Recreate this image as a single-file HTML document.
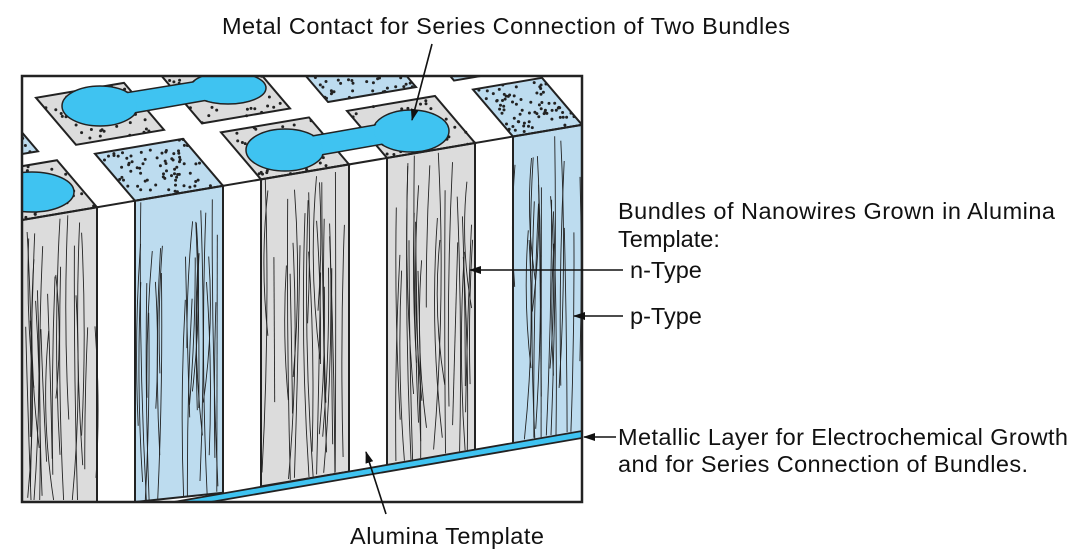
<!DOCTYPE html>
<html><head><meta charset="utf-8"><style>
html,body{margin:0;padding:0;background:#fff;width:1082px;height:560px;overflow:hidden}
svg{display:block}
text{font-family:"Liberation Sans",Arial,sans-serif;font-size:23.5px;fill:#111}
</style></head><body>
<svg id="s" width="1082" height="560" viewBox="0 0 1082 560" xmlns="http://www.w3.org/2000/svg">
<defs>
<clipPath id="frame"><rect x="22" y="76" width="560" height="426"/></clipPath>
<marker id="ah" markerWidth="12" markerHeight="8" refX="11" refY="4" orient="auto" markerUnits="userSpaceOnUse"><path d="M0,0 L12,4 L0,8 Z" fill="#111"/></marker>
</defs>
<rect x="22" y="76" width="560" height="426" fill="#fff"/>
<g id="art" clip-path="url(#frame)"></g>
<rect x="22" y="76" width="560" height="426" fill="none" stroke="#222" stroke-width="2.5"/>
<text x="222" y="34" textLength="568">Metal Contact for Series Connection of Two Bundles</text>
<line x1="432" y1="44" x2="412" y2="120" stroke="#111" stroke-width="1.6" marker-end="url(#ah)"/>
<text x="618" y="219" textLength="437">Bundles of Nanowires Grown in Alumina</text>
<text x="618" y="247">Template:</text>
<text x="630" y="278">n-Type</text>
<line x1="623" y1="270" x2="470" y2="270" stroke="#111" stroke-width="1.6" marker-end="url(#ah)"/>
<text x="630" y="324">p-Type</text>
<line x1="623" y1="316" x2="574" y2="316" stroke="#111" stroke-width="1.6" marker-end="url(#ah)"/>
<text x="618" y="445" textLength="450">Metallic Layer for Electrochemical Growth</text>
<text x="618" y="472" textLength="410">and for Series Connection of Bundles.</text>
<line x1="616" y1="437" x2="584" y2="437" stroke="#111" stroke-width="1.6" marker-end="url(#ah)"/>
<text x="350" y="544" textLength="194">Alumina Template</text>
<line x1="386" y1="514" x2="366" y2="452" stroke="#111" stroke-width="1.6" marker-end="url(#ah)"/>
</svg>
<script>
(function(){
var NS="http://www.w3.org/2000/svg",g=document.getElementById("art");
var seed=11;function r(){seed=(seed*16807)%2147483647;return (seed-1)/2147483646;}
function el(t,a){var e=document.createElementNS(NS,t);for(var k in a)e.setAttribute(k,a[k]);g.appendChild(e);return e;}
function fy(x){return 220-0.17*(x-22);}
function by(x){return 502-0.168*(x-168);}
var GRAY="#dcdcdc",LB="#bddcef",CB="#3fc3f1";
var D=[-40,-47];
function pad(x0,x1,dy,fill,dots){
  var p=[[x0,fy(x0)+dy],[x1,fy(x1)+dy],[x1+D[0],fy(x1)+dy+D[1]],[x0+D[0],fy(x0)+dy+D[1]]];
  el("polygon",{points:p.map(function(q){return q.join(",")}).join(" "),fill:fill,stroke:"#222","stroke-width":2});
  for(var i=0;i<dots;i++){var u=r(),v=r();
    var x=p[0][0]+(p[1][0]-p[0][0])*u+(p[3][0]-p[0][0])*v, y=p[0][1]+(p[1][1]-p[0][1])*u+(p[3][1]-p[0][1])*v;
    el("circle",{cx:x.toFixed(1),cy:y.toFixed(1),r:1.5,fill:"#222"});}
}
var cols=[[22,97,GRAY],[135,223,LB],[261,349,GRAY],[387,475,GRAY],[513,582,LB]];
var backFill=[LB,GRAY,GRAY,LB,LB];
for(var i=0;i<5;i++){var c=cols[i];pad(c[0]-59,c[1]-59,-66,backFill[i],backFill[i]==LB?70:50);}
// back dumbbell
el("ellipse",{cx:100,cy:106,rx:38,ry:20,fill:CB,stroke:"#222","stroke-width":1.5});
el("ellipse",{cx:228,cy:88,rx:38,ry:16,fill:CB,stroke:"#222","stroke-width":1.5});
el("path",{d:"M125,93 L205,80 L208,100 L128,114 Z",fill:CB});
el("path",{d:"M125,93 L205,80 M128,114 L208,100",stroke:"#222","stroke-width":1.5,fill:"none"});
el("ellipse",{cx:100,cy:106,rx:37,ry:19,fill:CB});
el("ellipse",{cx:228,cy:88,rx:37,ry:15,fill:CB});
for(var i=0;i<5;i++){var c=cols[i];pad(c[0],c[1],0,c[2]==LB?LB:GRAY,c[2]==LB?75:50);}
// front dumbbell
el("ellipse",{cx:285,cy:150,rx:39,ry:21,fill:CB,stroke:"#222","stroke-width":1.5});
el("ellipse",{cx:411,cy:131,rx:38,ry:21,fill:CB,stroke:"#222","stroke-width":1.5});
el("path",{d:"M312,136 L386,123 L389,143 L315,156 Z",fill:CB});
el("path",{d:"M312,136 L386,123 M315,156 L389,143",stroke:"#222","stroke-width":1.5,fill:"none"});
el("ellipse",{cx:285,cy:150,rx:38,ry:20,fill:CB});
el("ellipse",{cx:411,cy:131,rx:37,ry:20,fill:CB});
el("ellipse",{cx:32,cy:192,rx:42,ry:20,fill:CB,stroke:"#222","stroke-width":1.5});
cols.forEach(function(c){
  var x0=c[0],x1=c[1],yb0=Math.min(502,by(x0)),yb1=Math.min(502,by(x1));
  el("polygon",{points:[x0,fy(x0),x1,fy(x1),x1,yb1,x0,yb0].join(","),fill:c[2],stroke:"#222","stroke-width":2});
  var n=Math.round((x1-x0)*0.3);
  for(var k=0;k<n;k++){
    var x=x0+2+r()*(x1-x0-4),top=fy(x)+r()*120,len=120+r()*200,bot=Math.min(top+len,Math.min(502,by(x))-2);
    var mx=x+(r()-0.5)*16;
    var xe=Math.max(x0+1,Math.min(x1-1,x+(r()-0.5)*12));
    el("path",{d:"M"+x.toFixed(1)+","+top.toFixed(1)+" Q"+mx.toFixed(1)+","+((top+bot)/2).toFixed(1)+" "+xe.toFixed(1)+","+bot.toFixed(1),fill:"none",stroke:"#222","stroke-width":0.9});
  }
});
el("line",{x1:22,y1:fy(22),x2:582,y2:fy(582),stroke:"#222","stroke-width":2});
el("polygon",{points:"168,503 582,431 582,438 205,503",fill:CB,stroke:"#222","stroke-width":1.8});
})();
</script>
</body></html>
